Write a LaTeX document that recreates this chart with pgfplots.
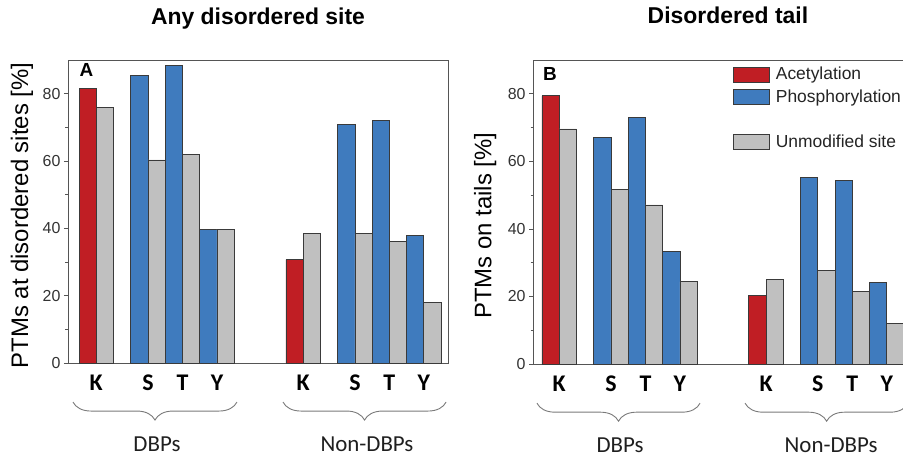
\documentclass[border=0pt]{standalone}
\usepackage{pgfplots}
\pgfplotsset{compat=1.18}
\usepackage{fontspec}
\setmainfont{Liberation Sans}
\newfontfamily\calibri{Carlito}
\usetikzlibrary{decorations.pathreplacing}
\definecolor{acred}{HTML}{C01E24}
\definecolor{phblue}{HTML}{3F7BBE}
\definecolor{ungray}{HTML}{C0C0C0}
\definecolor{edge}{HTML}{3A3A3A}
\definecolor{axgray}{HTML}{555555}
\definecolor{txtgray}{HTML}{333333}
\definecolor{bracegray}{HTML}{7A7A7A}
\pgfplotsset{
  ptmaxis/.style={
    scale only axis, width=380bp, height=303bp,
    ymin=0, ymax=90,
    ytick={0,20,40,60,80}, minor y tick num=1,
    tick align=outside, major tick length=4bp, minor tick length=2.5bp,
    tick style={axgray, line width=0.6bp},
    axis line style={axgray, line width=0.8bp},
    yticklabel style={font=\fontsize{16}{18}\selectfont, text=txtgray},
    /pgf/number format/assume math mode=true,
    xtick={1.5,4.5,6.5,8.5,13.5,16.5,18.5,20.5},
    xticklabels={K,S,T,Y,K,S,T,Y},
    x tick style={draw=none},
    xticklabel style={font=\calibri\bfseries\fontsize{24}{26}\selectfont, yshift=-4bp},
    ytick pos=left, xtick pos=bottom,
    clip=false,
    ylabel style={font=\fontsize{24}{26}\selectfont, anchor=center},
    title style={font=\bfseries\fontsize{23}{26}\selectfont, anchor=base, at={(rel axis cs:0.5,1.099)}},
    legend image code/.code={\draw[#1, draw=edge, line width=0.8bp] (0bp,-7bp) rectangle (36bp,8bp);},
  },
  bars/.style={ybar, bar width=1, bar shift=0, draw=edge, line width=0.8bp},
}
\begin{document}
\begin{tikzpicture}
\useasboundingbox (0,0) rectangle (903bp,457bp);
\clip (0,0) rectangle (903bp,457bp);
% ---------------- Panel A
\begin{axis}[ptmaxis, at={(68bp,94bp)}, anchor=south west,
  xmin=-0.14, xmax=21.9,
  ylabel={PTMs at disordered sites [\%]},
  ylabel style={at={(rel axis cs:-0.121,0.487)}},
  title={Any disordered site}]
\addplot[bars, fill=acred] coordinates {(1,81.6) (13,30.7)};
\addplot[bars, fill=phblue] coordinates {(4,85.4) (6,88.3) (8,39.6) (16,70.8) (18,72.0) (20,37.8)};
\addplot[bars, fill=ungray] coordinates {(2,75.9) (5,60.3) (7,61.9) (9,39.7) (14,38.4) (17,38.4) (19,36.1) (21,18.0)};
\node[anchor=base west, font=\bfseries\fontsize{19}{21}\selectfont, inner sep=0pt] at (rel axis cs:0.03,0.944) {A};
\draw[bracegray, line width=0.9bp, decorate, decoration={brace, mirror, amplitude=18bp}] (axis cs:0.15,-11.6) -- (axis cs:9.66,-11.6);
\draw[bracegray, line width=0.9bp, decorate, decoration={brace, mirror, amplitude=18bp}] (axis cs:12.33,-11.6) -- (axis cs:21.79,-11.6);
\node[anchor=base, font=\calibri\fontsize{23}{25}\selectfont, text=txtgray!60!black] at (axis cs:5.02,-26.2) {DBPs};
\node[anchor=base, font=\calibri\fontsize{23}{25}\selectfont, text=txtgray!60!black] at (axis cs:17.2,-26.2) {Non-DBPs};
\end{axis}
% ---------------- Panel B
\begin{axis}[ptmaxis, at={(533bp,93bp)}, anchor=south west,
  height=304bp,
  xmin=-0.02, xmax=22.02,
  ylabel={PTMs on tails [\%]},
  ylabel style={at={(rel axis cs:-0.126,0.455)}},
  title={Disordered tail},
  title style={at={(rel axis cs:0.513,1.099)}},
  legend style={draw=none, fill=none, at={(rel axis cs:0.526,0.98)}, anchor=north west,
    font=\fontsize{17.5}{19}\selectfont, text=txtgray!70!black, row sep=4.5bp, inner sep=0pt,
    nodes={inner sep=1bp, text height=12.5bp, text depth=3.5bp},
    /tikz/every odd column/.append style={column sep=5bp}},
  legend cell align=left]
\addplot[bars, fill=acred] coordinates {(1,79.4) (13,20.4)};
\addlegendentry{Acetylation}
\addplot[bars, fill=phblue] coordinates {(4,67.1) (6,73.1) (8,33.2) (16,55.3) (18,54.3) (20,24.1)};
\addlegendentry{Phosphorylation}
\addlegendimage{empty legend}
\addlegendentry{}
\addplot[bars, fill=ungray] coordinates {(2,69.6) (5,51.6) (7,47.1) (9,24.4) (14,25.0) (17,27.8) (19,21.5) (21,12.1)};
\addlegendentry{Unmodified site}
\node[anchor=base west, font=\bfseries\fontsize{19}{21}\selectfont, inner sep=0pt] at (rel axis cs:0.026,0.934) {B};
\draw[bracegray, line width=0.9bp, decorate, decoration={brace, mirror, amplitude=18bp}] (axis cs:0.21,-11.6) -- (axis cs:9.67,-11.6);
\draw[bracegray, line width=0.9bp, decorate, decoration={brace, mirror, amplitude=18bp}] (axis cs:12.28,-11.6) -- (axis cs:21.74,-11.6);
\node[anchor=base, font=\calibri\fontsize{23}{25}\selectfont, text=txtgray!60!black] at (axis cs:5.03,-26.2) {DBPs};
\node[anchor=base, font=\calibri\fontsize{23}{25}\selectfont, text=txtgray!60!black] at (axis cs:17.27,-26.2) {Non-DBPs};
\end{axis}
\end{tikzpicture}
\end{document}
